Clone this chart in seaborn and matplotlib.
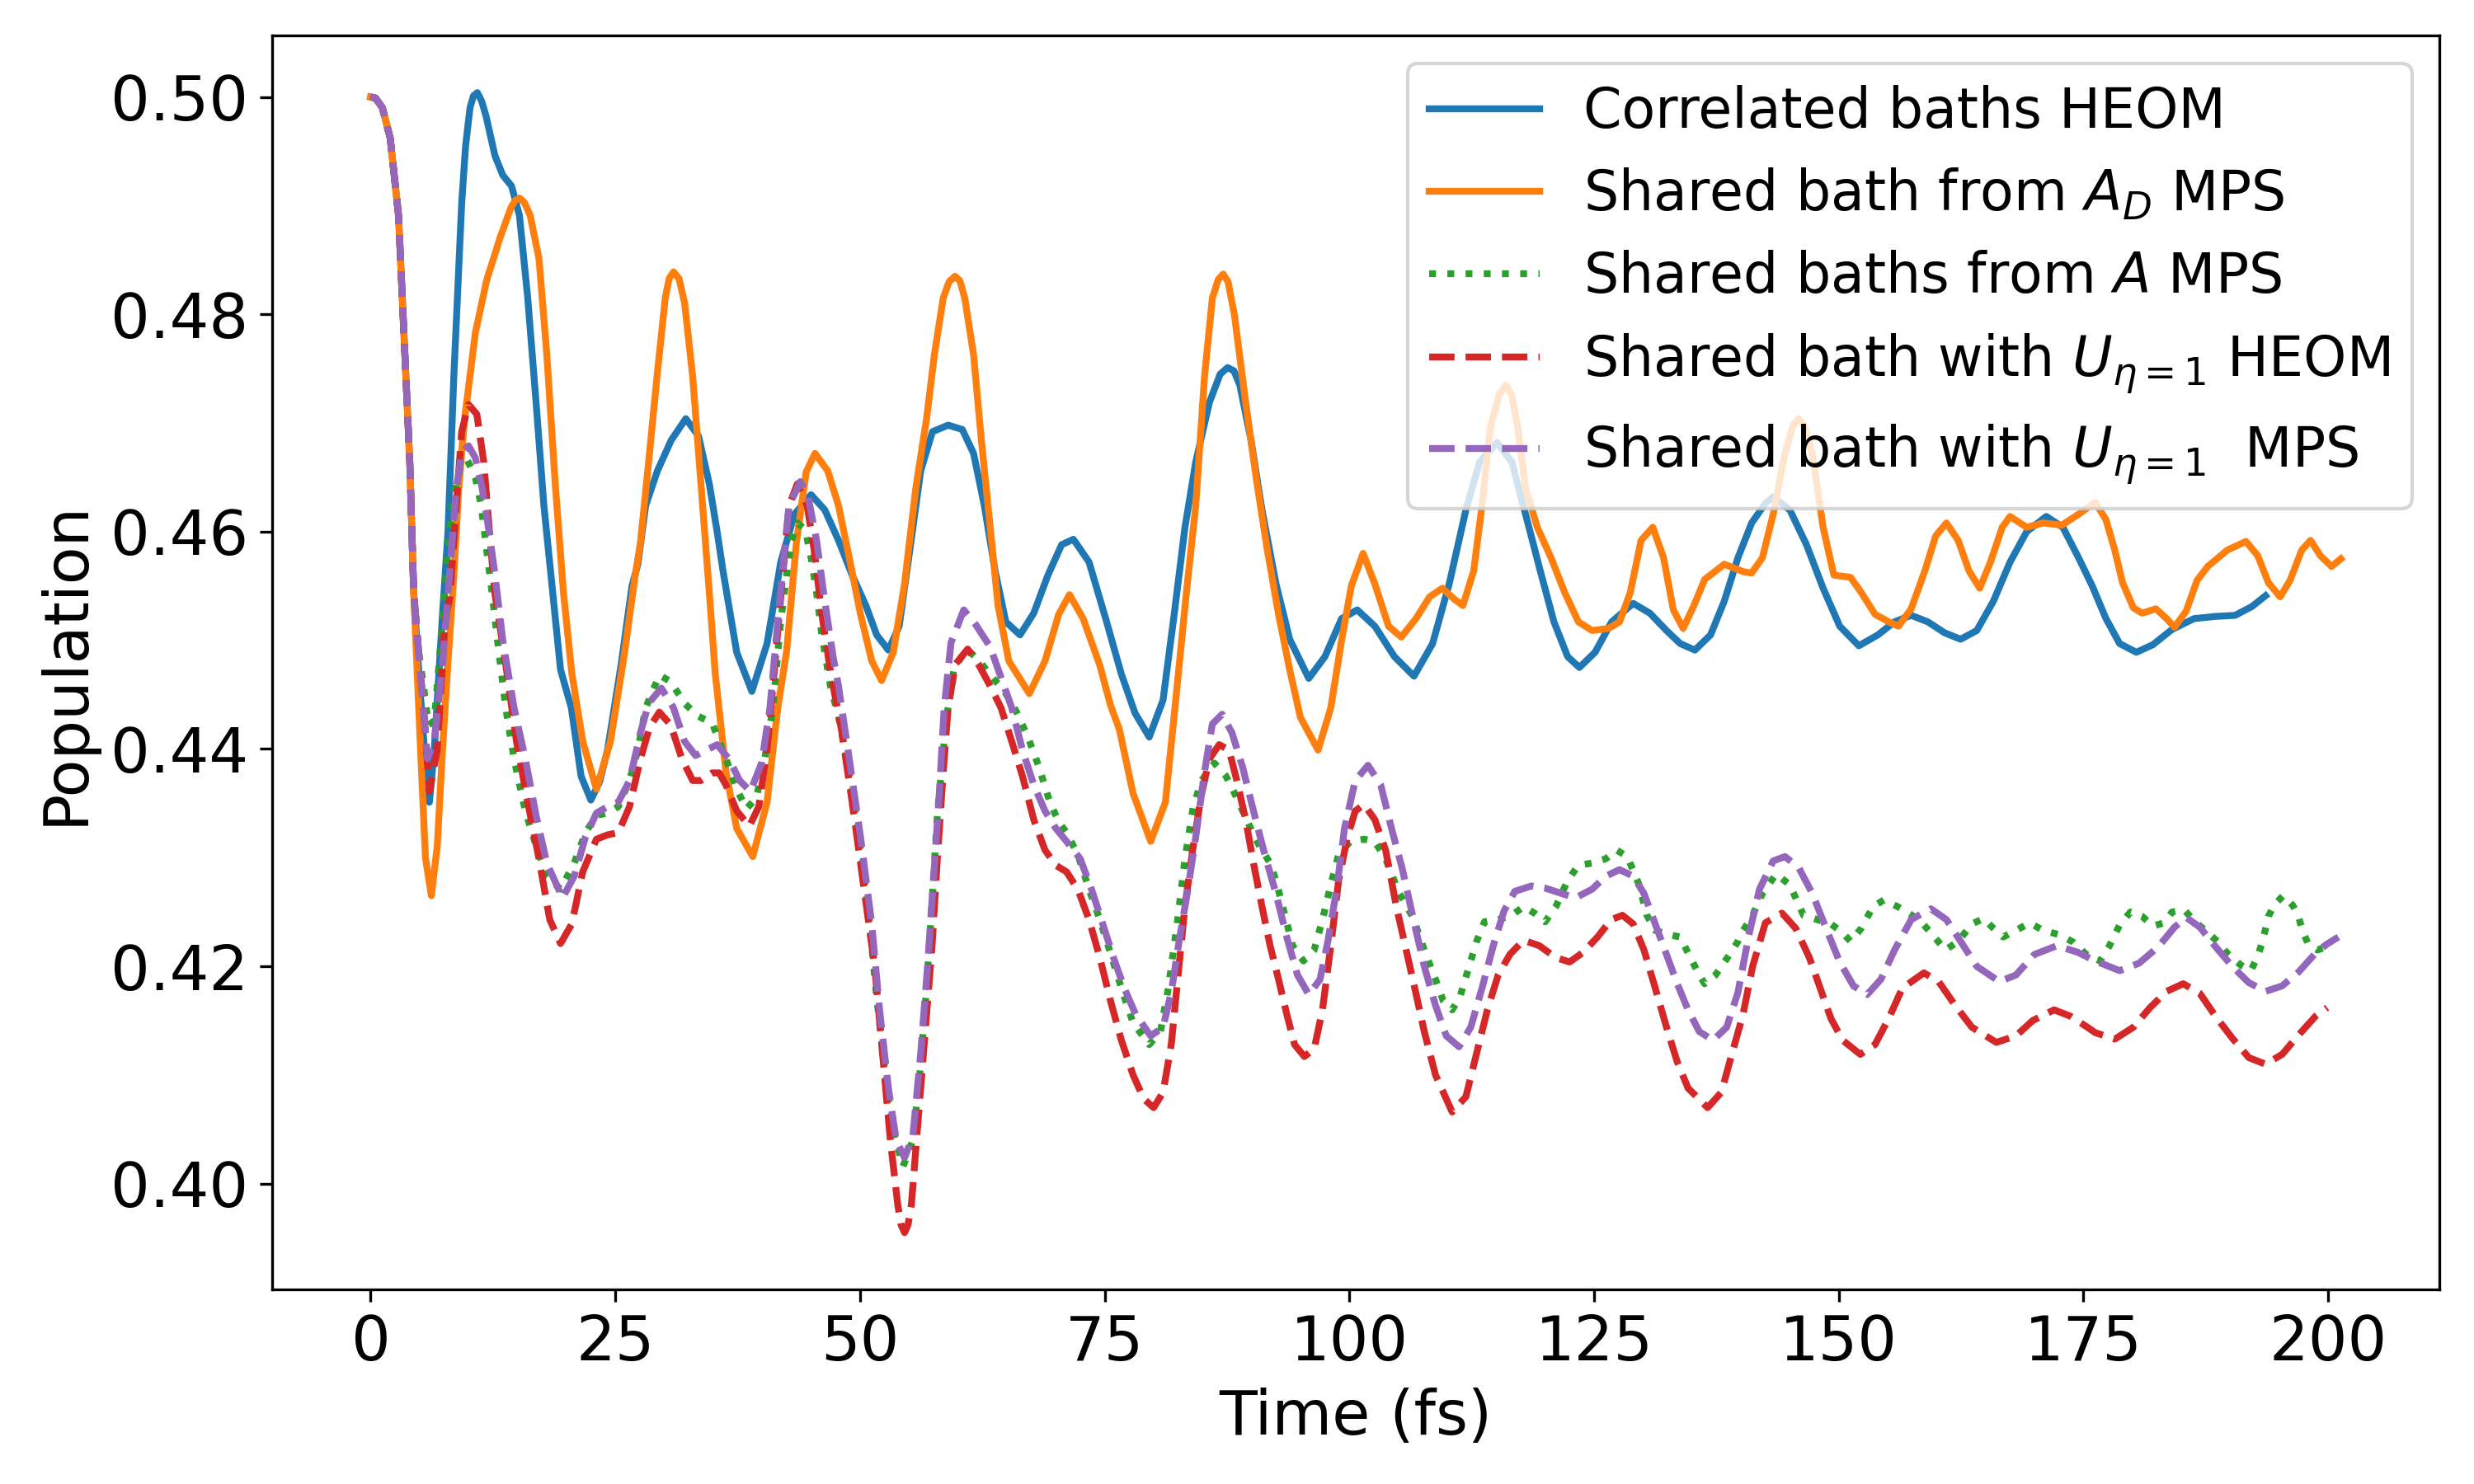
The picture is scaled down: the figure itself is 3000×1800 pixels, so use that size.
import matplotlib
matplotlib.use("Agg")
import matplotlib.pyplot as plt
import seaborn as sns

# values, time in fs / population
start_t = [0.0, 0.5, 1.2, 2.0, 2.85, 3.4, 4.0, 4.4]
start_p = [0.5000, 0.4999, 0.4990, 0.4962, 0.4891, 0.4783, 0.4664, 0.4544]

heom_t = start_t + [
    5.0, 5.5, 6.0, 6.5, 7.3, 7.9, 8.5, 9.3, 9.7, 10.15, 10.5, 10.9, 11.35, 11.8, 12.7,
    13.5, 14.4, 15.2, 16.05, 16.9, 17.7, 18.6, 19.4, 20.5, 21.5, 22.5, 23.4, 24.2, 25.6,
    26.7, 27.3, 28.1, 29.3, 30.7, 32.2, 33.5, 34.6, 35.4, 36.0, 37.4, 38.95, 40.5, 41.9,
    43.3, 45.0, 46.4, 47.8, 49.2, 50.6, 51.7, 52.9, 54.0, 55.1, 56.2, 57.4, 59.0, 60.45,
    61.6, 62.7, 63.8, 64.9, 66.35, 67.75, 69.2, 70.6, 71.8, 73.4, 75.1, 76.7, 78.1,
    79.55, 80.96, 82.1, 83.2, 84.3, 85.7, 86.8, 87.56, 88.2, 88.8, 89.95, 91.07, 92.5,
    93.9, 95.85, 97.5, 99.2, 100.8, 102.6, 104.6, 106.6, 108.5, 110.2, 111.9, 113.3,
    115.1, 116.6, 118.0, 119.5, 120.9, 122.3, 123.5, 125.1, 126.8, 129.0, 130.7, 132.4,
    133.8, 135.3, 136.9, 138.3, 139.7, 141.1, 142.5, 143.3, 145.0, 146.7, 148.4, 150.1,
    152.05, 154.0, 155.7, 157.4, 159.1, 160.8, 162.45, 164.1, 165.8, 167.5, 169.2, 171.2,
    172.9, 174.5, 175.9, 177.3, 178.7, 180.4, 182.1, 184.05, 186.3, 188.5, 190.5, 192.2,
    193.6]
heom_p = start_p + [
    0.4460, 0.4399, 0.4351, 0.4399, 0.4518, 0.4600, 0.4743, 0.4902, 0.4955, 0.4990,
    0.5001, 0.5004, 0.4996, 0.4982, 0.4946, 0.4928, 0.4918, 0.4891, 0.4815, 0.4719,
    0.4624, 0.4544, 0.4473, 0.4438, 0.4375, 0.4353, 0.4370, 0.4399, 0.4478, 0.4550,
    0.4570, 0.4624, 0.4656, 0.4684, 0.4704, 0.4688, 0.4644, 0.4600, 0.4564, 0.4489,
    0.4453, 0.4497, 0.4572, 0.4616, 0.4634, 0.4620, 0.4592, 0.4560, 0.4532, 0.4505,
    0.4491, 0.4513, 0.4584, 0.4656, 0.4692, 0.4698, 0.4694, 0.4672, 0.4624, 0.4564,
    0.4517, 0.4505, 0.4525, 0.4560, 0.4588, 0.4593, 0.4572, 0.4520, 0.4469, 0.4433,
    0.4411, 0.4445, 0.4524, 0.4604, 0.4664, 0.4719, 0.4745, 0.4751, 0.4748, 0.4735,
    0.4684, 0.4620, 0.4552, 0.4501, 0.4465, 0.4485, 0.4520, 0.4528, 0.4513, 0.4485,
    0.4467, 0.4497, 0.4552, 0.4620, 0.4664, 0.4682, 0.4664, 0.4616, 0.4564, 0.4517,
    0.4485, 0.4475, 0.4489, 0.4517, 0.4534, 0.4525, 0.4509, 0.4497, 0.4491, 0.4505,
    0.4536, 0.4576, 0.4608, 0.4626, 0.4632, 0.4620, 0.4588, 0.4548, 0.4513, 0.4495,
    0.4505, 0.4517, 0.4523, 0.4517, 0.4507, 0.4501, 0.4509, 0.4536, 0.4572, 0.4600,
    0.4614, 0.4604, 0.4576, 0.4550, 0.4520, 0.4497, 0.4489, 0.4496, 0.4510, 0.4520,
    0.4522, 0.4523, 0.4531, 0.4541]

ad_mps_t = start_t + [
    5.1, 5.6, 6.2, 6.8, 7.34, 7.9, 8.5, 9.0, 9.6, 10.7, 11.84, 13.24, 14.37, 14.8, 15.2,
    15.7, 16.3, 17.2, 18.0, 18.86, 19.7, 20.55, 21.67, 23.07, 24.5, 25.9, 27.0, 27.57,
    28.4, 29.26, 30.1, 30.5, 30.94, 31.5, 32.07, 32.9, 33.75, 34.6, 35.2, 36.3, 37.4,
    39.04, 40.5, 41.6, 42.5, 43.5, 44.5, 45.4, 46.7, 47.8, 48.9, 50.05, 51.2, 52.2, 53.4,
    54.55, 55.7, 56.8, 57.6, 58.5, 59.1, 59.7, 60.2, 60.7, 61.6, 62.4, 63.3, 64.1, 65.2,
    67.3, 68.9, 70.3, 71.4, 72.8, 74.5, 75.6, 76.5, 77.9, 79.7, 81.2, 82.4, 83.3, 84.3,
    85.2, 86.0, 86.6, 87.1, 87.6, 88.26, 89.4, 90.5, 91.6, 92.76, 93.9, 95.0, 96.8, 98.1,
    99.2, 100.2, 101.4, 102.6, 104.0, 105.3, 106.8, 108.2, 109.5, 110.7, 111.6, 112.7,
    113.55, 114.4, 115.3, 116.0, 116.6, 117.2, 118.0, 119.2, 120.6, 122.0, 123.4, 124.8,
    126.5, 127.6, 128.7, 129.8, 131.0, 132.1, 133.1, 134.1, 135.2, 136.3, 138.3, 140.3,
    141.1, 142.2, 143.3, 144.5, 145.3, 145.9, 146.5, 147.3, 148.4, 149.5, 151.2, 152.3,
    153.7, 155.1, 156.1, 157.4, 158.8, 159.9, 161.0, 162.2, 163.3, 164.4, 165.5, 166.7,
    167.5, 169.2, 170.9, 172.8, 174.5, 176.2, 177.3, 178.2, 179.0, 180.1, 181.0, 182.4,
    183.5, 184.3, 185.5, 186.6, 187.7, 189.7, 191.6, 192.8, 193.9, 195.1, 196.1, 197.3,
    198.2, 199.2, 200.35, 201.3]
ad_mps_p = start_p + [
    0.4399, 0.4300, 0.4265, 0.4310, 0.4399, 0.4480, 0.4560, 0.4640, 0.4704, 0.4783,
    0.4831, 0.4871, 0.4899, 0.4905, 0.4907, 0.4903, 0.4891, 0.4851, 0.4763, 0.4644,
    0.4544, 0.4470, 0.4407, 0.4363, 0.4407, 0.4486, 0.4558, 0.4590, 0.4664, 0.4743,
    0.4815, 0.4833, 0.4839, 0.4833, 0.4811, 0.4743, 0.4644, 0.4544, 0.4470, 0.4379,
    0.4327, 0.4301, 0.4351, 0.4438, 0.4490, 0.4590, 0.4655, 0.4672, 0.4656, 0.4624,
    0.4576, 0.4524, 0.4481, 0.4463, 0.4489, 0.4552, 0.4640, 0.4704, 0.4763, 0.4815,
    0.4830, 0.4835, 0.4831, 0.4815, 0.4763, 0.4684, 0.4604, 0.4532, 0.4481, 0.4451,
    0.4481, 0.4524, 0.4542, 0.4520, 0.4477, 0.4440, 0.4418, 0.4359, 0.4315, 0.4351,
    0.4458, 0.4540, 0.4624, 0.4743, 0.4815, 0.4832, 0.4837, 0.4830, 0.4799, 0.4719,
    0.4648, 0.4584, 0.4524, 0.4473, 0.4429, 0.4399, 0.4438, 0.4500, 0.4550, 0.4580,
    0.4552, 0.4513, 0.4503, 0.4520, 0.4540, 0.4548, 0.4538, 0.4532, 0.4564, 0.4624,
    0.4696, 0.4726, 0.4735, 0.4725, 0.4696, 0.4640, 0.4604, 0.4576, 0.4544, 0.4517,
    0.4509, 0.4511, 0.4517, 0.4544, 0.4592, 0.4604, 0.4576, 0.4528, 0.4511, 0.4532,
    0.4556, 0.4570, 0.4563, 0.4562, 0.4576, 0.4616, 0.4672, 0.4697, 0.4704, 0.4697,
    0.4672, 0.4604, 0.4560, 0.4558, 0.4544, 0.4524, 0.4517, 0.4513, 0.4529, 0.4564,
    0.4596, 0.4608, 0.4592, 0.4564, 0.4548, 0.4572, 0.4604, 0.4614, 0.4604, 0.4608,
    0.4606, 0.4616, 0.4627, 0.4611, 0.4583, 0.4553, 0.4530, 0.4525, 0.4529, 0.4520,
    0.4512, 0.4527, 0.4555, 0.4568, 0.4583, 0.4591, 0.4578, 0.4553, 0.4540, 0.4555,
    0.4583, 0.4592, 0.4578, 0.4568, 0.4575]

a_mps_t = start_t + [
    4.9, 5.4, 5.9, 6.5, 6.8, 7.34, 7.9, 8.46, 9.17, 9.87, 10.7, 11.3, 11.84, 12.4, 12.96,
    13.8, 14.65, 15.8, 16.9, 18.0, 19.4, 20.8, 21.95, 23.07, 24.2, 25.3, 26.45, 27.3,
    28.1, 29.5, 30.66, 32.07, 33.5, 34.9, 35.4, 36.3, 37.4, 38.4, 39.4, 40.2, 41.1, 41.9,
    42.5, 43.0, 43.6, 44.4, 45.0, 45.56, 46.1, 47.0, 47.8, 48.65, 49.8, 50.9, 51.7, 52.6,
    53.4, 54.4, 55.4, 56.1, 56.8, 57.36, 57.9, 58.8, 59.6, 60.9, 62.1, 63.5, 64.7, 66.0,
    67.2, 68.3, 69.4, 70.3, 71.1, 72.25, 73.4, 74.5, 75.6, 76.7, 77.9, 79.55, 80.7, 81.5,
    82.4, 83.2, 84.05, 84.9, 86.2, 87.4, 88.5, 89.7, 90.8, 91.9, 92.5, 93.3, 94.2, 95.3,
    96.4, 97.25, 98.1, 98.9, 100.1, 101.5, 102.6, 103.7, 105.1, 106.5, 107.65, 108.8,
    109.6, 110.5, 111.3, 112.1, 113.0, 113.8, 115.2, 116.6, 117.8, 118.9, 120.0, 121.1,
    122.3, 123.4, 124.8, 126.2, 127.3, 128.4, 129.6, 130.4, 131.25, 132.7, 133.8, 134.9,
    135.75, 136.3, 137.4, 138.55, 139.7, 140.0, 141.1, 142.2, 143.6, 145.0, 146.4, 147.8,
    149.2, 150.4, 151.2, 152.3, 153.5, 154.6, 156.0, 157.1, 158.2, 159.4, 160.9, 162.2,
    163.6, 164.8, 165.8, 166.8, 168.1, 169.5, 170.9, 172.6, 174.0, 175.4, 176.7, 177.6,
    178.7, 179.8, 181.0, 182.1, 183.2, 184.05, 185.3, 186.3, 187.7, 188.8, 189.7, 191.1,
    192.1, 192.8, 193.3, 193.9, 194.45, 195.4, 196.4, 197.0, 197.4, 198.0, 198.9, 200.1]
a_mps_p = start_p + [
    0.4490, 0.4458, 0.4422, 0.4426, 0.4458, 0.4518, 0.4584, 0.4632, 0.4660, 0.4666,
    0.4650, 0.4624, 0.4584, 0.4544, 0.4500, 0.4438, 0.4391, 0.4343, 0.4311, 0.4283,
    0.4271, 0.4295, 0.4323, 0.4339, 0.4341, 0.4347, 0.4371, 0.4399, 0.4438, 0.4468,
    0.4462, 0.4442, 0.4430, 0.4424, 0.4412, 0.4391, 0.4363, 0.4345, 0.4355, 0.4387,
    0.4438, 0.4518, 0.4560, 0.4592, 0.4608, 0.4602, 0.4576, 0.4544, 0.4505, 0.4457,
    0.4430, 0.4391, 0.4327, 0.4247, 0.4172, 0.4100, 0.4048, 0.4016, 0.4040, 0.4100,
    0.4180, 0.4259, 0.4339, 0.4426, 0.4474, 0.4492, 0.4482, 0.4466, 0.4454, 0.4434,
    0.4410, 0.4383, 0.4351, 0.4333, 0.4323, 0.4303, 0.4271, 0.4243, 0.4212, 0.4180,
    0.4148, 0.4128, 0.4140, 0.4180, 0.4239, 0.4299, 0.4347, 0.4371, 0.4387, 0.4375,
    0.4355, 0.4331, 0.4311, 0.4295, 0.4279, 0.4251, 0.4219, 0.4205, 0.4215, 0.4243,
    0.4275, 0.4303, 0.4315, 0.4317, 0.4315, 0.4299, 0.4267, 0.4245, 0.4215, 0.4188,
    0.4168, 0.4160, 0.4172, 0.4196, 0.4223, 0.4241, 0.4243, 0.4247, 0.4255, 0.4249,
    0.4241, 0.4255, 0.4279, 0.4293, 0.4295, 0.4299, 0.4307, 0.4301, 0.4275, 0.4247,
    0.4233, 0.4229, 0.4227, 0.4207, 0.4192, 0.4184, 0.4192, 0.4207, 0.4223, 0.4230,
    0.4245, 0.4267, 0.4285, 0.4275, 0.4247, 0.4243, 0.4239, 0.4231, 0.4223, 0.4235,
    0.4255, 0.4261, 0.4255, 0.4249, 0.4243, 0.4231, 0.4215, 0.4223, 0.4239, 0.4244,
    0.4235, 0.4227, 0.4233, 0.4240, 0.4233, 0.4229, 0.4222, 0.4210, 0.4205, 0.4218,
    0.4238, 0.4250, 0.4246, 0.4237, 0.4240, 0.4250, 0.4252, 0.4242, 0.4231, 0.4222,
    0.4212, 0.4201, 0.4196, 0.4209, 0.4223, 0.4246, 0.4256, 0.4265, 0.4256, 0.4245,
    0.4232, 0.4220, 0.4215, 0.4219]

u_heom_t = start_t + [
    4.9, 5.4, 6.0, 6.8, 7.6, 8.1, 8.75, 9.3, 10.0, 10.85, 11.56, 12.1, 12.68, 13.8, 14.9,
    16.05, 17.2, 18.3, 19.4, 20.55, 21.67, 23.07, 24.2, 25.3, 26.45, 27.57, 28.5, 29.5,
    30.66, 31.8, 32.9, 33.75, 34.9, 35.6, 36.3, 37.4, 38.7, 39.66, 40.5, 41.3, 42.0,
    42.75, 43.6, 44.6, 45.3, 46.1, 47.0, 48.1, 49.2, 50.3, 51.5, 52.3, 53.1, 53.85, 54.2,
    54.55, 54.9, 55.25, 55.95, 56.66, 57.36, 57.9, 58.5, 59.0, 59.75, 61.0, 62.1, 63.3,
    64.4, 65.5, 66.6, 67.75, 68.9, 70.0, 71.1, 72.25, 73.4, 74.5, 75.6, 76.7, 77.9, 79.0,
    80.0, 80.96, 81.8, 82.5, 83.2, 84.05, 84.9, 85.7, 86.7, 87.7, 88.5, 89.4, 90.2,
    91.07, 91.9, 92.76, 93.6, 94.4, 95.4, 96.4, 97.25, 98.1, 98.9, 99.8, 100.6, 101.5,
    102.6, 103.7, 104.8, 105.8, 106.8, 107.65, 108.8, 110.5, 111.9, 113.0, 114.1, 115.2,
    116.4, 117.8, 119.4, 121.1, 122.5, 123.9, 125.35, 126.75, 127.9, 129.0, 130.1,
    131.25, 132.4, 133.5, 134.6, 136.6, 138.0, 139.1, 140.2, 141.2, 142.5, 144.2, 145.6,
    147.0, 148.1, 149.2, 150.4, 152.2, 153.7, 155.1, 156.5, 158.7, 160.2, 161.9, 163.6,
    166.1, 168.1, 169.8, 172.0, 173.7, 175.4, 176.2, 178.2, 180.1, 181.8, 183.5, 185.2,
    186.9, 188.5, 190.2, 191.9, 193.6, 195.3, 197.0, 198.7, 199.9]
u_heom_p = start_p + [
    0.4490, 0.4438, 0.4361, 0.4399, 0.4518, 0.4540, 0.4624, 0.4692, 0.4717, 0.4708,
    0.4664, 0.4604, 0.4544, 0.4478, 0.4407, 0.4351, 0.4299, 0.4243, 0.4221, 0.4239,
    0.4287, 0.4317, 0.4321, 0.4323, 0.4347, 0.4391, 0.4420, 0.4434, 0.4422, 0.4391,
    0.4371, 0.4371, 0.4378, 0.4378, 0.4367, 0.4343, 0.4329, 0.4347, 0.4399, 0.4478,
    0.4550, 0.4624, 0.4644, 0.4624, 0.4584, 0.4524, 0.4470, 0.4418, 0.4351, 0.4279,
    0.4200, 0.4120, 0.4040, 0.3981, 0.3962, 0.3955, 0.3962, 0.3981, 0.4060, 0.4140,
    0.4219, 0.4299, 0.4379, 0.4438, 0.4478, 0.4492, 0.4478, 0.4458, 0.4438, 0.4407,
    0.4375, 0.4335, 0.4307, 0.4293, 0.4287, 0.4271, 0.4243, 0.4208, 0.4168, 0.4132,
    0.4100, 0.4078, 0.4070, 0.4084, 0.4128, 0.4192, 0.4255, 0.4311, 0.4359, 0.4391,
    0.4404, 0.4399, 0.4371, 0.4335, 0.4295, 0.4255, 0.4219, 0.4188, 0.4156, 0.4128,
    0.4117, 0.4124, 0.4160, 0.4219, 0.4279, 0.4319, 0.4343, 0.4349, 0.4335, 0.4307,
    0.4255, 0.4215, 0.4175, 0.4140, 0.4100, 0.4066, 0.4080, 0.4120, 0.4160, 0.4192,
    0.4211, 0.4224, 0.4219, 0.4208, 0.4204, 0.4213, 0.4227, 0.4243, 0.4247, 0.4239,
    0.4215, 0.4180, 0.4144, 0.4112, 0.4088, 0.4070, 0.4084, 0.4120, 0.4155, 0.4200,
    0.4240, 0.4249, 0.4235, 0.4208, 0.4180, 0.4152, 0.4132, 0.4119, 0.4128, 0.4152,
    0.4180, 0.4194, 0.4186, 0.4164, 0.4144, 0.4130, 0.4136, 0.4150, 0.4160, 0.4154,
    0.4144, 0.4139, 0.4133, 0.4144, 0.4162, 0.4177, 0.4184, 0.4175, 0.4154, 0.4134,
    0.4116, 0.4110, 0.4119, 0.4137, 0.4154, 0.4162]

u_mps_t = start_t + [
    4.9, 5.4, 5.8, 6.5, 7.34, 8.04, 8.75, 9.3, 10.0, 10.7, 11.4, 12.1, 12.68, 13.5, 14.65,
    15.8, 16.9, 18.0, 19.6, 20.8, 21.95, 23.07, 24.2, 25.3, 26.45, 27.57, 28.4, 29.7,
    30.94, 32.07, 33.2, 34.3, 35.4, 36.6, 37.7, 38.8, 39.94, 40.8, 41.6, 42.2, 42.75,
    43.9, 44.7, 45.56, 46.4, 47.25, 47.8, 48.9, 50.05, 51.2, 52.0, 52.9, 53.7, 54.55,
    55.4, 56.2, 56.9, 57.5, 58.1, 58.6, 59.3, 60.6, 61.85, 63.3, 64.4, 65.5, 66.6, 67.75,
    68.9, 70.0, 71.1, 72.5, 73.65, 74.8, 75.9, 77.0, 78.15, 79.7, 80.96, 81.8, 82.6, 83.5,
    84.3, 85.2, 86.0, 87.0, 88.0, 89.1, 90.2, 91.35, 92.5, 93.6, 94.7, 95.85, 97.0, 97.8,
    98.7, 99.5, 100.6, 101.9, 103.2, 104.3, 105.4, 106.5, 107.65, 108.8, 109.9, 111.2,
    112.4, 113.55, 114.7, 115.8, 116.9, 118.6, 120.0, 121.7, 123.1, 124.8, 126.2, 127.6,
    129.0, 130.1, 131.25, 132.4, 133.5, 134.6, 135.75, 137.15, 138.55, 139.7, 140.8,
    141.9, 143.3, 144.5, 145.9, 147.3, 148.7, 150.1, 151.5, 152.9, 154.3, 155.7, 157.4,
    159.4, 161.0, 162.45, 164.1, 166.4, 168.1, 170.0, 172.3, 174.4, 176.2, 178.7, 180.7,
    182.65, 184.3, 185.5, 186.9, 188.5, 190.2, 191.9, 193.6, 195.3, 197.0, 198.7, 199.8,
    201.05]
u_mps_p = start_p + [
    0.4490, 0.4438, 0.4391, 0.4407, 0.4478, 0.4558, 0.4640, 0.4672, 0.4679, 0.4668,
    0.4640, 0.4600, 0.4562, 0.4500, 0.4438, 0.4391, 0.4339, 0.4295, 0.4263, 0.4283,
    0.4319, 0.4341, 0.4347, 0.4351, 0.4371, 0.4415, 0.4442, 0.4456, 0.4438, 0.4407,
    0.4394, 0.4399, 0.4404, 0.4391, 0.4371, 0.4361, 0.4387, 0.4438, 0.4518, 0.4575,
    0.4624, 0.4646, 0.4632, 0.4592, 0.4536, 0.4485, 0.4458, 0.4391, 0.4319, 0.4239,
    0.4160, 0.4088, 0.4040, 0.4024, 0.4044, 0.4120, 0.4200, 0.4279, 0.4359, 0.4438,
    0.4498, 0.4528, 0.4514, 0.4494, 0.4466, 0.4438, 0.4399, 0.4367, 0.4343, 0.4327,
    0.4315, 0.4299, 0.4271, 0.4239, 0.4208, 0.4180, 0.4156, 0.4136, 0.4144, 0.4176,
    0.4223, 0.4271, 0.4319, 0.4379, 0.4423, 0.4432, 0.4415, 0.4383, 0.4343, 0.4303,
    0.4267, 0.4227, 0.4192, 0.4174, 0.4188, 0.4223, 0.4271, 0.4327, 0.4371, 0.4385,
    0.4367, 0.4327, 0.4290, 0.4245, 0.4200, 0.4164, 0.4136, 0.4126, 0.4144, 0.4180,
    0.4219, 0.4251, 0.4269, 0.4274, 0.4272, 0.4267, 0.4263, 0.4271, 0.4283, 0.4289,
    0.4283, 0.4267, 0.4239, 0.4211, 0.4184, 0.4160, 0.4140, 0.4132, 0.4144, 0.4176,
    0.4228, 0.4271, 0.4297, 0.4301, 0.4291, 0.4267, 0.4235, 0.4204, 0.4182, 0.4174,
    0.4188, 0.4215, 0.4243, 0.4253, 0.4243, 0.4223, 0.4200, 0.4186, 0.4192, 0.4211,
    0.4219, 0.4213, 0.4205, 0.4196, 0.4203, 0.4218, 0.4236, 0.4245, 0.4236, 0.4218,
    0.4200, 0.4185, 0.4177, 0.4182, 0.4195, 0.4212, 0.4220, 0.4227]

series = [
    (heom_t, heom_p, "Correlated baths HEOM", "C0", "-"),
    (ad_mps_t, ad_mps_p, "Shared bath from $A_D$ MPS", "C1", "-"),
    (a_mps_t, a_mps_p, "Shared baths from $A$ MPS", "C2", ":"),
    (u_heom_t, u_heom_p, r"Shared bath with $U_{\eta=1}$ HEOM", "C3", "--"),
    (u_mps_t, u_mps_p, r"Shared bath with $U_{\eta=1}$  MPS", "C4", "--"),
]

plt.rcParams["font.size"] = 18

fig = plt.figure(figsize=(10, 6), dpi=300)
ax = fig.add_axes([0.110, 0.131, 0.876, 0.845])

for t, p, label, color, ls in series:
    sns.lineplot(x=t, y=p, ax=ax, color=color, linestyle=ls, linewidth=2,
                 label=label, sort=False, estimator=None)

ax.set_xlabel("Time (fs)")
ax.set_ylabel("Population")
ax.legend(loc="upper right", fontsize=16)

fig.savefig("out.png", dpi=300)
